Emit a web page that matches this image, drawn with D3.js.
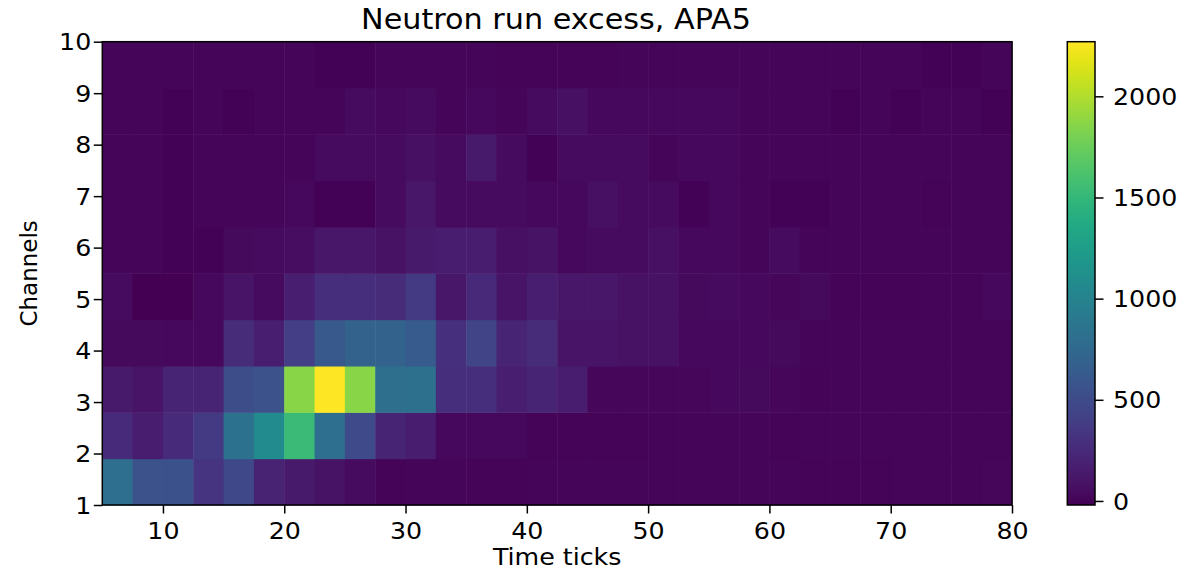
<!DOCTYPE html>
<html>
<head>
<meta charset="utf-8">
<script src="https://cdn.jsdelivr.net/npm/d3@7"></script>
<style>
  html, body { margin: 0; padding: 0; background: #fff; }
  svg { display: block; font-family: "DejaVu Sans", sans-serif; }
</style>
</head>
<body>
<svg id="chart" width="1184" height="571"></svg>
<script>
// Bin edges (time ticks along x, channels along y)
const timeEdges = [5, 7.5, 10, 12.5, 15, 17.5, 20, 22.5, 25, 27.5, 30, 32.5, 35, 37.5, 40, 42.5,
                   45, 47.5, 50, 52.5, 55, 57.5, 60, 62.5, 65, 67.5, 70, 72.5, 75, 77.5, 80];
const channelEdges = [1, 1.9, 2.8, 3.7, 4.6, 5.5, 6.4, 7.3, 8.2, 9.1, 10];

// Excess counts per channel bin (bottom to top), one value per time bin
const excessCh1 = [800, 560, 550, 320, 480, 200, 140, 90, 50, 0, 10, 10, 5, 5, 10, 10, 10, 15, 10, 10, 10, 10, 10, 5, 5, 5, 10, 10, 10, 20];
const excessCh2 = [250, 150, 250, 370, 840, 1080, 1530, 800, 490, 210, 160, 30, 30, 25, 0, 0, 5, 5, 15, 15, 15, 15, 0, 10, 10, 10, 10, 10, 10, 10];
const excessCh3 = [140, 100, 210, 210, 510, 560, 1860, 2270, 1860, 810, 820, 280, 280, 170, 210, 150, 20, 20, 20, 20, 25, 40, 20, 0, 10, 10, 10, 10, 10, 10];
const excessCh4 = [40, 40, 30, 30, 260, 170, 400, 610, 700, 700, 630, 300, 440, 210, 260, 100, 100, 80, 80, 30, 30, 30, 40, 10, 10, 10, 10, 10, 10, 10];
const excessCh5 = [50, -20, -20, 25, 100, 50, 170, 280, 280, 260, 370, 120, 240, 100, 170, 120, 120, 80, 80, 40, 50, 30, 20, 40, 0, 0, 0, 10, 10, 30];
const excessCh6 = [10, 15, -10, -10, 40, 50, 60, 120, 120, 80, 140, 160, 160, 70, 90, 30, 50, 50, 70, 30, 30, 10, 50, 10, 10, 10, 10, 10, 10, 10];
const excessCh7 = [10, 10, -10, 10, 15, 15, 30, -10, -10, 50, 120, 50, 50, 50, 30, 30, 70, 50, 50, -10, 30, 10, -10, -10, 10, 10, 10, 0, 10, 10];
const excessCh8 = [10, 10, -10, 10, 10, 10, 10, 50, 50, 50, 70, 50, 140, 50, -10, 50, 50, 50, 10, 30, 30, 10, 10, 10, 10, 10, 10, 10, 10, 10];
const excessCh9 = [10, 10, -10, 10, -10, 10, 10, 10, 50, 30, 50, 10, 30, 10, 50, 70, 30, 30, 30, 30, 30, 10, 10, 10, -10, 10, -10, 10, 10, -10];
const excessCh10 = [10, 10, 10, 10, 10, 10, 10, -10, -10, 10, 10, 10, 10, 0, 0, 0, 0, 10, 10, 10, 10, 10, 10, 10, 10, 10, 10, -10, -10, 10];

const xTicks = [10, 20, 30, 40, 50, 60, 70, 80];
const yTicks = [1, 2, 3, 4, 5, 6, 7, 8, 9, 10];
const cbarTicks = [0, 500, 1000, 1500, 2000];

const titleText = "Neutron run excess, APA5";
const xLabel = "Time ticks";
const yLabel = "Channels";

const rows = [excessCh1, excessCh2, excessCh3, excessCh4, excessCh5,
              excessCh6, excessCh7, excessCh8, excessCh9, excessCh10];

// Layout
const plot = { left: 102.3, right: 1012, top: 41.7, bottom: 505 };
const cbar = { left: 1067.3, right: 1095, top: 41.7, bottom: 505 };
const FS = 23;          // tick / label font size
const SX = 1.1;         // horizontal text stretch

const svg = d3.select("#chart");

const x = d3.scaleLinear().domain([timeEdges[0], timeEdges[timeEdges.length - 1]])
  .range([plot.left, plot.right]);
const y = d3.scaleLinear().domain([channelEdges[0], channelEdges[channelEdges.length - 1]])
  .range([plot.bottom, plot.top]);

const allVals = rows.flat();
const vmin = d3.min(allVals), vmax = d3.max(allVals);
const color = d3.scaleSequential(d3.interpolateViridis).domain([vmin, vmax]);

// Heatmap cells
const cells = [];
rows.forEach((row, r) => {
  row.forEach((v, c) => {
    cells.push({ x0: timeEdges[c], x1: timeEdges[c + 1], y0: channelEdges[r], y1: channelEdges[r + 1], v });
  });
});

svg.append("g")
  .selectAll("rect")
  .data(cells)
  .join("rect")
  .attr("x", d => x(d.x0))
  .attr("y", d => y(d.y1))
  .attr("width", d => x(d.x1) - x(d.x0) + 0.5)
  .attr("height", d => y(d.y0) - y(d.y1) + 0.5)
  .attr("fill", d => color(d.v));

// Axes
const xAxis = svg.append("g")
  .attr("transform", `translate(0,${plot.bottom})`)
  .call(d3.axisBottom(x).tickValues(xTicks).tickSize(8.5).tickFormat(d3.format("d")));
const yAxis = svg.append("g")
  .attr("transform", `translate(${plot.left},0)`)
  .call(d3.axisLeft(y).tickValues(yTicks).tickSize(8.5).tickFormat(d3.format("d")));

[xAxis, yAxis].forEach(g => {
  g.select(".domain").remove();
  g.selectAll(".tick line").attr("stroke", "#000").attr("stroke-width", 1.5);
  g.selectAll(".tick text").attr("fill", "#000").attr("font-size", FS)
    .attr("font-family", "DejaVu Sans");
});
xAxis.selectAll(".tick text").attr("y", 0).attr("dy", 0)
  .attr("transform", `translate(0,34) scale(${SX},1)`);
yAxis.selectAll(".tick text").attr("x", 0).attr("dy", "0.35em")
  .attr("transform", `translate(-11,0) scale(${SX},1)`);

// Plot frame
svg.append("rect")
  .attr("x", plot.left).attr("y", plot.top)
  .attr("width", plot.right - plot.left).attr("height", plot.bottom - plot.top)
  .attr("fill", "none").attr("stroke", "#000").attr("stroke-width", 1.5);

// Colorbar
const cy = d3.scaleLinear().domain([vmin, vmax]).range([cbar.bottom, cbar.top]);
const defs = svg.append("defs");
const grad = defs.append("linearGradient").attr("id", "cbarGrad")
  .attr("x1", 0).attr("y1", 1).attr("x2", 0).attr("y2", 0);
d3.range(0, 1.0001, 0.02).forEach(t => {
  grad.append("stop").attr("offset", t).attr("stop-color", d3.interpolateViridis(t));
});
svg.append("rect")
  .attr("x", cbar.left).attr("y", cbar.top)
  .attr("width", cbar.right - cbar.left).attr("height", cbar.bottom - cbar.top)
  .attr("fill", "url(#cbarGrad)")
  .attr("stroke", "#000").attr("stroke-width", 1.5);

const cAxis = svg.append("g")
  .attr("transform", `translate(${cbar.right},0)`)
  .call(d3.axisRight(cy).tickValues(cbarTicks).tickSize(8.5).tickFormat(d3.format("d")));
cAxis.select(".domain").remove();
cAxis.selectAll(".tick line").attr("stroke", "#000").attr("stroke-width", 1.5);
cAxis.selectAll(".tick text").attr("fill", "#000").attr("font-size", FS)
  .attr("font-family", "DejaVu Sans")
  .attr("x", 0).attr("dy", "0.35em")
  .attr("transform", `translate(18,0) scale(${SX},1)`);

// Title and axis labels
svg.append("text")
  .attr("transform", `translate(556,29) scale(${SX},1)`)
  .attr("text-anchor", "middle").attr("font-size", 27.5).attr("fill", "#000")
  .text(titleText);

svg.append("text")
  .attr("transform", `translate(${(plot.left + plot.right) / 2},565) scale(${SX},1)`)
  .attr("text-anchor", "middle").attr("font-size", FS).attr("fill", "#000")
  .text(xLabel);

svg.append("text")
  .attr("transform", `translate(36.5,${(plot.top + plot.bottom) / 2}) rotate(-90)`)
  .attr("text-anchor", "middle").attr("font-size", FS).attr("fill", "#000")
  .text(yLabel);
</script>
</body>
</html>
